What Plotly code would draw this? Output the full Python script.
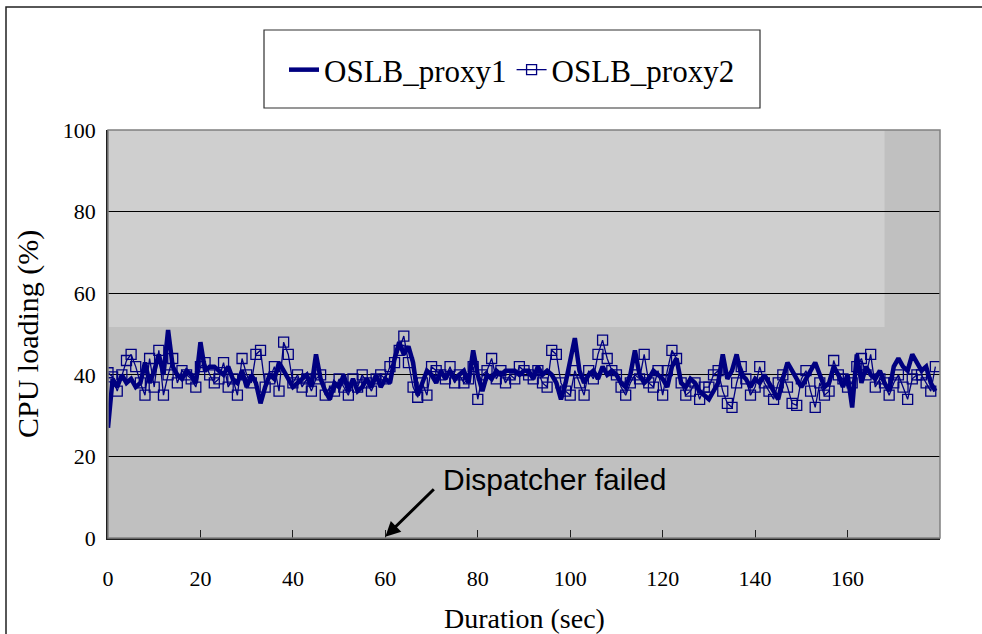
import plotly.graph_objects as go

seconds = list(range(180))

proxy1 = [
    27, 39, 37, 40, 38, 39, 37, 38, 43, 38,
    41, 45, 40, 51, 42, 40, 39, 41, 40, 38,
    48, 41, 42, 42, 41, 40, 42, 39, 38, 41,
    37, 40, 38, 33, 37, 40, 39, 43, 41, 39,
    37, 38, 39, 40, 37, 45, 39, 36, 34, 38,
    37, 40, 36, 39, 36, 37, 39, 37, 40, 37,
    39, 38, 44, 48, 45, 47, 43, 35, 38, 41,
    40, 38, 41, 39, 41, 39, 40, 41, 38, 46,
    40, 36, 40, 39, 41, 40, 41, 41, 41, 40,
    41, 41, 39, 42, 40, 41, 40, 38, 34, 38,
    44, 49, 41, 38, 40, 41, 39, 42, 40, 41,
    40, 38, 37, 40, 46, 40, 38, 39, 41, 40,
    39, 37, 42, 44, 38, 37, 39, 38, 36, 35,
    34, 36, 38, 45, 39, 41, 45, 40, 39, 37,
    39, 38, 40, 38, 36, 34, 39, 43, 41, 39,
    37, 39, 41, 43, 40, 37, 38, 42, 40, 37,
    40, 32, 45, 38, 42, 40, 39, 41, 38, 36,
    42, 44, 42, 41, 45, 43, 41, 42, 38, 36,
]

proxy2 = [
    40.5, 39.5, 36, 40, 43.5, 45, 42, 38, 35, 44,
    37, 46, 35, 40, 44, 38, 41, 40, 39, 37,
    42, 43, 40, 38, 39, 43, 37, 39, 35, 44,
    40, 38, 45, 46, 37, 39, 42, 36, 48, 45,
    38, 40, 37, 39, 36, 39, 40, 35, 37, 36,
    39, 37, 35, 39, 37, 40, 38, 36, 39, 40,
    39, 42, 43, 46, 49.5, 43, 37, 34.5, 38, 35,
    42, 41, 40, 39, 42, 38, 40, 38, 39, 42,
    34, 40, 41, 44, 39, 41, 38, 40, 39, 42,
    41, 40, 39, 41, 38, 37, 46, 45, 38, 36,
    35, 41, 38, 35, 41, 39, 45, 48.5, 44, 41,
    40, 37, 35, 38, 40, 39, 45, 38, 37, 41,
    35, 41, 46, 44, 38, 35, 36, 38, 34, 37,
    37, 40, 41, 36, 33, 32, 38, 42, 39, 35,
    37, 42, 38, 36, 34, 38, 40, 37, 33, 32.5,
    39, 41, 36, 32, 38, 35, 36, 43.5, 40, 39,
    37, 38, 42, 44, 40, 45, 37, 39, 38, 35,
    38, 40, 37, 34, 39, 40, 40, 38, 36, 42,
]

x_ticks = [0, 20, 40, 60, 80, 100, 120, 140, 160]
y_ticks = [0, 20, 40, 60, 80, 100]

NAVY = "#000080"
SERIF = "Liberation Serif, Times New Roman, serif"

fig = go.Figure()
fig.add_trace(go.Scatter(
    x=seconds, y=proxy2, name="OSLB_proxy2", mode="lines+markers",
    line=dict(color=NAVY, width=1.3),
    marker=dict(symbol="square-open", size=10, color=NAVY, line=dict(width=1.3, color=NAVY)),
    legendrank=2,
))
fig.add_trace(go.Scatter(
    x=seconds, y=proxy1, name="OSLB_proxy1", mode="lines",
    line=dict(color=NAVY, width=4.5),
    legendrank=1,
))

shapes = [
    dict(type="rect", xref="x", yref="y", x0=0, x1=168, y0=51.7, y1=100,
         fillcolor="#cfcfcf", line=dict(width=0), layer="below"),
    dict(type="rect", xref="paper", yref="paper", x0=0, x1=1, y0=0, y1=1,
         line=dict(color="#808080", width=1.5), layer="above"),
    dict(type="rect", xref="paper", yref="paper",
         x0=(264 - 108) / 832, x1=(760 - 108) / 832,
         y0=(538 - 108) / 408, y1=(538 - 30) / 408,
         line=dict(color="#303030", width=1.2)),
    dict(type="rect", xref="paper", yref="paper",
         x0=(6 - 108) / 832, x1=(1000 - 108) / 832,
         y0=(538 - 660) / 408, y1=(538 - 7) / 408,
         line=dict(color="#202020", width=1.5)),
]

annotations = [
    dict(x=60, y=0.3, xref="x", yref="y", ax=50, ay=-49, text="",
         showarrow=True, arrowhead=2, arrowsize=1, arrowwidth=3, arrowcolor="black"),
    dict(x=(441 - 108) / 832, y=(538 - 479) / 408, xref="paper", yref="paper",
         text="Dispatcher failed", showarrow=False, xanchor="left", yanchor="middle",
         font=dict(family="Liberation Sans, Arial, sans-serif", size=30, color="black")),
    dict(x=0.5, y=(538 - 618) / 408, xref="paper", yref="paper", text="Duration (sec)",
         showarrow=False, font=dict(family=SERIF, size=28, color="black"),
         xanchor="center", yanchor="middle"),
    dict(x=(28 - 108) / 832, y=0.5, xref="paper", yref="paper", text="CPU loading (%)",
         showarrow=False, textangle=-90, font=dict(family=SERIF, size=30, color="black"),
         xanchor="center", yanchor="middle"),
]

fig.update_layout(
    width=982, height=634,
    margin=dict(l=108, r=42, t=130, b=96),
    paper_bgcolor="white",
    plot_bgcolor="#c0c0c0",
    showlegend=True,
    legend=dict(
        orientation="h", x=(512 - 108) / 832, y=(538 - 70) / 408,
        xanchor="center", yanchor="middle",
        font=dict(family=SERIF, size=31, color="black"),
        bgcolor="rgba(0,0,0,0)", borderwidth=0,
    ),
    xaxis=dict(
        range=[0, 180], tickvals=x_ticks, ticktext=[str(v) for v in x_ticks],
        showgrid=False, zeroline=False, showline=True, linecolor="#202020", linewidth=1.5,
        ticks="inside", ticklen=8, tickcolor="#202020", tickwidth=1,
        tickfont=dict(family=SERIF, size=22, color="black"),
        ticklabelstandoff=20,
    ),
    yaxis=dict(
        range=[0, 100], tickvals=y_ticks, ticktext=[str(v) for v in y_ticks],
        showgrid=True, gridcolor="black", gridwidth=1,
        zeroline=False, showline=True, linecolor="#202020", linewidth=1.5,
        ticks="", tickfont=dict(family=SERIF, size=22, color="black"),
        ticklabelstandoff=6,
    ),
    shapes=shapes,
    annotations=annotations,
)

fig.write_html("out.html", config={"displayModeBar": False},
               post_script="document.body.style.margin='0';document.body.style.overflow='hidden';")
